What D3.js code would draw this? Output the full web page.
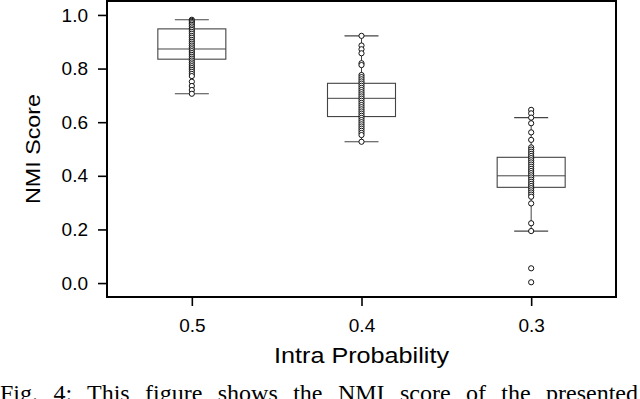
<!DOCTYPE html>
<html>
<head>
<meta charset="utf-8">
<script src="https://cdn.jsdelivr.net/npm/d3@7"></script>
<style>
  body { margin: 0; background: #fff; }
  svg { display: block; }
</style>
</head>
<body>
<svg id="chart" width="640" height="399"></svg>
<script>
// categories (x axis, intra probability)
var categories = ["0.5", "0.4", "0.3"];
var yTicks = [0.0, 0.2, 0.4, 0.6, 0.8, 1.0];

// box statistics
var q1 = [0.835, 0.621, 0.357];
var median = [0.873, 0.689, 0.400];
var q3 = [0.948, 0.745, 0.469];
var whiskerLo = [0.706, 0.527, 0.194];
var whiskerHi = [0.982, 0.922, 0.617];

// individual NMI scores
var points05 = [0.982, 0.978, 0.974, 0.969, 0.963, 0.957, 0.950, 0.944, 0.937, 0.930,
  0.922, 0.915, 0.907, 0.900, 0.893, 0.886, 0.879, 0.872, 0.865, 0.858, 0.851, 0.844,
  0.837, 0.830, 0.823, 0.816, 0.809, 0.802, 0.795, 0.788, 0.780, 0.772, 0.751, 0.735,
  0.720, 0.706];
var points04 = [0.922, 0.886, 0.872, 0.857, 0.820, 0.813, 0.776, 0.768, 0.760, 0.752,
  0.744, 0.736, 0.728, 0.720, 0.712, 0.704, 0.696, 0.688, 0.680, 0.672, 0.664, 0.656,
  0.648, 0.640, 0.632, 0.624, 0.616, 0.608, 0.600, 0.592, 0.584, 0.576, 0.568, 0.560,
  0.552, 0.527];
var points03 = [0.646, 0.633, 0.617, 0.596, 0.562, 0.534, 0.506, 0.498, 0.490, 0.482,
  0.474, 0.466, 0.458, 0.450, 0.442, 0.434, 0.426, 0.418, 0.410, 0.402, 0.394, 0.386,
  0.378, 0.370, 0.362, 0.354, 0.346, 0.338, 0.330, 0.322, 0.297, 0.223, 0.194, 0.055,
  0.003];
var points = [points05, points04, points03];

var caption = "Fig. 4: This figure shows the NMI score of the presented";

function draw() {
  var svg = d3.select("#chart");
  var left = 107, right = 616, top = 1, bottom = 297;
  var boxW = 68, capW = 34;
  var sans = "'Liberation Sans', Arial, Helvetica, sans-serif";

  var x = d3.scalePoint().domain(categories).range([left, right]).padding(0.5);
  var y = d3.scaleLinear().domain([-0.052, 1.052]).range([bottom, top]);

  // axes
  var yAxis = svg.append("g")
    .attr("transform", "translate(" + left + ",0)")
    .call(d3.axisLeft(y).tickValues(yTicks).tickFormat(d3.format(".1f")).tickSize(9).tickPadding(10));
  var xAxis = svg.append("g")
    .attr("transform", "translate(0," + bottom + ")")
    .call(d3.axisBottom(x).tickSize(9).tickPadding(10));
  [yAxis, xAxis].forEach(function (a) {
    a.select(".domain").remove();
    a.selectAll(".tick line").attr("stroke", "#000").attr("stroke-width", 1.6);
    a.selectAll(".tick text").attr("fill", "#000")
      .style("font-family", sans).style("font-size", "19px");
  });
  xAxis.selectAll(".tick text").attr("dy", "0.85em");

  // boxes
  var g = svg.append("g");
  categories.forEach(function (c, i) {
    var cx = x(c);
    var col = "#444";
    // whisker stems
    g.append("line").attr("x1", cx).attr("x2", cx)
      .attr("y1", y(q3[i])).attr("y2", y(whiskerHi[i]))
      .attr("stroke", col).attr("stroke-width", 1);
    g.append("line").attr("x1", cx).attr("x2", cx)
      .attr("y1", y(q1[i])).attr("y2", y(whiskerLo[i]))
      .attr("stroke", col).attr("stroke-width", 1);
    // caps
    [whiskerHi[i], whiskerLo[i]].forEach(function (v) {
      g.append("line").attr("x1", cx - capW / 2).attr("x2", cx + capW / 2)
        .attr("y1", y(v)).attr("y2", y(v))
        .attr("stroke", col).attr("stroke-width", 1.2);
    });
    g.append("rect")
      .attr("x", cx - boxW / 2).attr("width", boxW)
      .attr("y", y(q3[i])).attr("height", y(q1[i]) - y(q3[i]))
      .attr("fill", "none").attr("stroke", col).attr("stroke-width", 1.1);
    g.append("line").attr("x1", cx - boxW / 2).attr("x2", cx + boxW / 2)
      .attr("y1", y(median[i])).attr("y2", y(median[i]))
      .attr("stroke", col).attr("stroke-width", 1);

    g.selectAll(".pt" + i).data(points[i]).enter().append("circle")
      .attr("class", "pt" + i)
      .attr("cx", cx)
      .attr("cy", function (d) { return y(d); })
      .attr("r", 2.6)
      .attr("fill", "#fff")
      .attr("stroke", "#111")
      .attr("stroke-width", 1);
  });

  // frame
  svg.append("rect")
    .attr("x", left).attr("y", top)
    .attr("width", right - left).attr("height", bottom - top)
    .attr("fill", "none").attr("stroke", "#000").attr("stroke-width", 2);

  // axis titles
  svg.append("text")
    .attr("x", (left + right) / 2).attr("y", 363)
    .attr("text-anchor", "middle")
    .attr("textLength", 175).attr("lengthAdjust", "spacingAndGlyphs")
    .style("font-family", sans).style("font-size", "22px")
    .text("Intra Probability");
  svg.append("text")
    .attr("transform", "translate(40," + ((top + bottom) / 2) + ") rotate(-90)")
    .attr("text-anchor", "middle")
    .attr("textLength", 110).attr("lengthAdjust", "spacingAndGlyphs")
    .style("font-family", sans).style("font-size", "21px")
    .text("NMI Score");

  // caption (cut off by the bottom edge), justified with word spacing
  var cap = svg.append("text")
    .attr("x", 0).attr("y", 401)
    .style("font-family", "'Liberation Serif', 'Times New Roman', serif")
    .style("font-size", "24px")
    .text(caption);
  var natural = cap.node().getComputedTextLength();
  var gaps = caption.split(" ").length - 1;
  cap.style("word-spacing", ((638 - natural) / gaps) + "px");
}

draw();
</script>
</body>
</html>
